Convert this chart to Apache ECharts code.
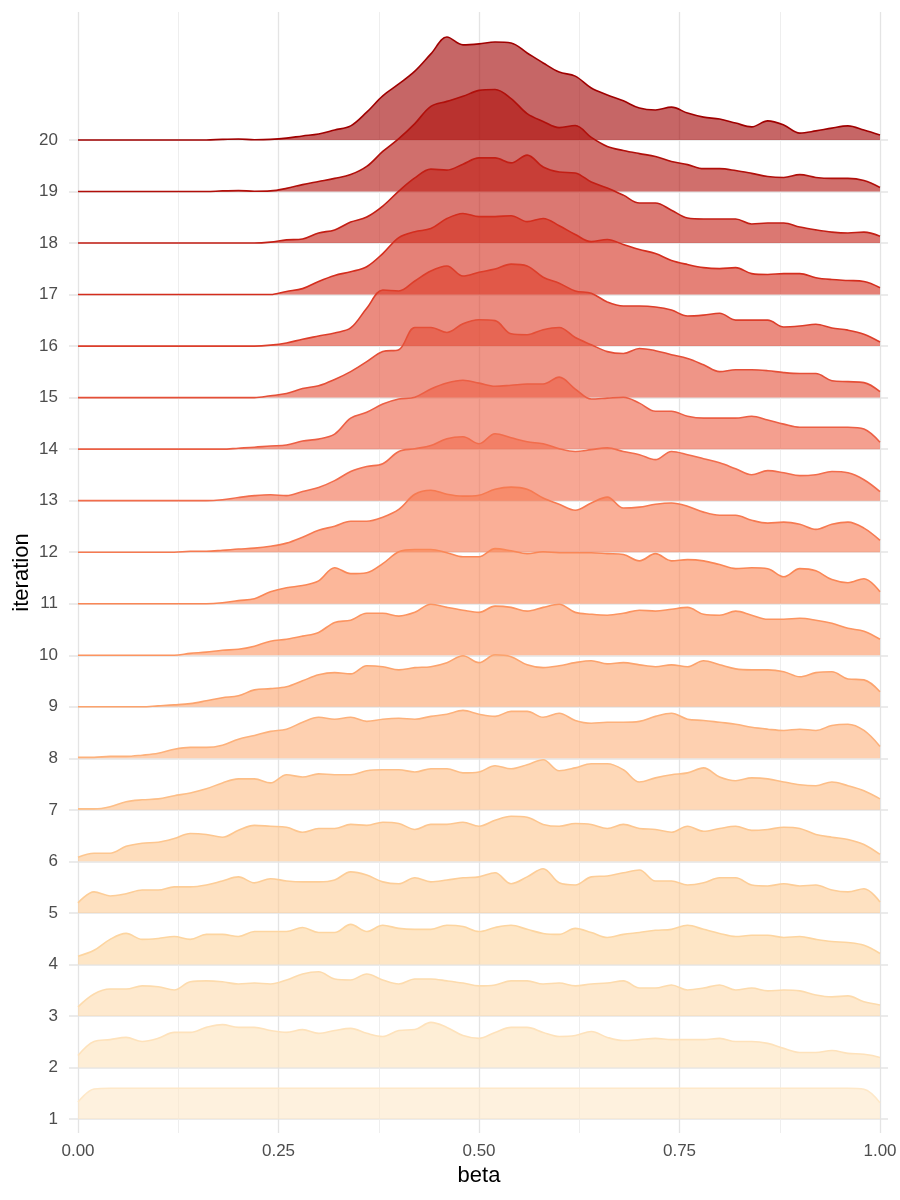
<!DOCTYPE html>
<html>
<head>
<meta charset="utf-8">
<script src="https://cdn.jsdelivr.net/npm/echarts@6/dist/echarts.min.js"></script>
<style>html,body{margin:0;padding:0;background:#fff}#chart{width:900px;height:1200px}</style>
</head>
<body>
<div id="chart"></div>
<script>
// ---- data ----
const beta = [0,0.02,0.04,0.06,0.08,0.1,0.12,0.14,0.16,0.18,0.2,0.22,0.24,0.26,0.28,0.3,0.32,0.34,0.36,0.38,0.4,0.42,0.44,0.46,0.48,0.5,0.52,0.54,0.56,0.58,0.6,0.62,0.64,0.66,0.68,0.7,0.72,0.74,0.76,0.78,0.8,0.82,0.84,0.86,0.88,0.9,0.92,0.94,0.96,0.98,1];
const iterations = [1,2,3,4,5,6,7,8,9,10,11,12,13,14,15,16,17,18,19,20];
const yTickLabels = ['1','2','3','4','5','6','7','8','9','10','11','12','13','14','15','16','17','18','19','20'];
const xTickLabels = ['0.00','0.25','0.50','0.75','1.00'];

// density of beta at each grid point, per iteration
const it1 = [0.54,0.96,0.98,0.98,0.98,0.98,0.98,0.98,0.98,0.98,0.98,0.98,0.98,0.98,0.98,0.98,0.98,0.98,0.98,0.98,0.98,0.98,0.98,0.98,0.98,0.98,0.98,0.98,0.98,0.98,0.98,0.98,0.98,0.98,0.98,0.98,0.98,0.98,0.98,0.98,0.98,0.98,0.98,0.98,0.98,0.98,0.98,0.98,0.98,0.95,0.52];
const it2 = [0.38,0.83,0.89,0.96,0.83,0.93,1.12,1.12,1.28,1.37,1.28,1.28,1.18,1.12,1.21,1.09,1.18,1.25,1.09,0.99,1.18,1.21,1.44,1.28,1.02,0.93,1.12,1.28,1.28,1.12,0.99,1.02,1.15,0.96,0.86,0.89,0.93,0.89,0.89,0.89,0.93,0.83,0.83,0.77,0.61,0.48,0.48,0.54,0.45,0.42,0.32];
const it3 = [0.29,0.70,0.86,0.86,0.96,0.93,0.83,1.09,1.12,1.09,1.02,1.05,1.02,1.15,1.34,1.41,1.18,1.15,1.34,1.15,1.02,1.18,1.18,1.12,1.05,0.96,0.99,1.12,1.12,1.02,1.05,0.96,1.02,1.05,1.12,0.89,0.89,0.99,0.83,0.89,0.99,0.83,0.89,0.80,0.83,0.80,0.67,0.61,0.64,0.45,0.35];
const it4 = [0.26,0.45,0.80,0.99,0.80,0.83,0.89,0.80,0.96,0.96,0.89,1.05,1.05,1.05,1.18,1.02,1.02,1.28,1.05,1.25,1.15,1.12,1.12,1.25,1.21,1.05,1.18,1.25,1.12,0.99,0.96,1.15,1.02,0.86,0.96,1.02,1.09,1.12,1.25,1.12,0.99,0.89,0.93,0.93,0.86,0.89,0.80,0.73,0.70,0.61,0.35];
const it5 = [0.32,0.67,0.54,0.61,0.73,0.73,0.83,0.83,0.89,1.02,1.15,0.96,1.09,1.02,0.99,0.99,1.05,1.31,1.21,0.99,0.93,1.12,0.99,1.05,1.12,1.15,1.28,0.93,1.15,1.41,0.96,0.89,1.15,1.18,1.28,1.37,1.02,1.02,0.89,0.96,1.12,1.12,0.89,0.86,0.93,0.86,0.89,0.73,0.67,0.77,0.35];
const it6 = [0.13,0.26,0.26,0.48,0.58,0.61,0.73,0.89,0.86,0.77,0.99,1.15,1.12,1.09,0.93,1.05,1.05,1.18,1.15,1.25,1.21,1.02,1.18,1.18,1.25,1.12,1.31,1.44,1.41,1.18,1.12,1.21,1.18,1.05,1.18,1.05,1.02,0.93,1.12,0.96,1.05,1.12,0.99,1.02,1.09,1.05,0.86,0.77,0.70,0.54,0.22];
const it7 = [0.03,0.03,0.10,0.26,0.32,0.35,0.45,0.54,0.67,0.86,0.99,0.99,0.86,1.12,1.05,1.15,1.12,1.12,1.25,1.28,1.28,1.21,1.31,1.31,1.18,1.21,1.41,1.31,1.44,1.60,1.25,1.34,1.47,1.47,1.28,0.89,1.02,1.12,1.18,1.34,1.05,0.93,1.02,0.99,0.89,0.80,0.77,0.89,0.77,0.61,0.35];
const it8 = [0.03,0.03,0.06,0.06,0.10,0.16,0.29,0.35,0.35,0.42,0.61,0.73,0.86,0.93,1.15,1.31,1.25,1.31,1.18,1.25,1.28,1.25,1.34,1.41,1.53,1.41,1.34,1.50,1.50,1.31,1.44,1.21,1.12,1.15,1.15,1.18,1.34,1.44,1.25,1.21,1.15,1.09,0.99,0.93,0.89,0.93,0.89,1.05,1.09,0.89,0.38];
const it9 = [0,0,0,0,0,0.03,0.06,0.10,0.19,0.29,0.35,0.54,0.58,0.64,0.83,1.02,1.09,1.05,1.31,1.28,1.18,1.25,1.28,1.41,1.63,1.41,1.66,1.60,1.34,1.25,1.31,1.41,1.47,1.37,1.41,1.34,1.28,1.34,1.28,1.47,1.34,1.21,1.18,1.18,1.12,0.96,1.09,1.12,0.89,0.86,0.48];
const it10 = [0,0,0,0,0,0,0,0.06,0.10,0.16,0.19,0.29,0.45,0.51,0.61,0.73,1.05,1.12,1.34,1.34,1.25,1.37,1.63,1.53,1.44,1.37,1.57,1.53,1.41,1.53,1.63,1.37,1.31,1.28,1.34,1.44,1.41,1.47,1.53,1.31,1.28,1.41,1.28,1.15,1.15,1.18,1.12,1.02,0.86,0.77,0.51];
const it11 = [0,0,0,0,0,0,0,0,0,0.03,0.10,0.16,0.38,0.51,0.58,0.73,1.15,0.96,0.99,1.28,1.66,1.73,1.73,1.63,1.50,1.50,1.76,1.69,1.60,1.66,1.63,1.63,1.63,1.60,1.57,1.37,1.60,1.37,1.41,1.37,1.25,1.12,1.15,1.12,0.86,1.12,1.05,0.77,0.67,0.80,0.38];
const it12 = [0,0,0,0,0,0,0,0.03,0.03,0.06,0.10,0.13,0.19,0.29,0.48,0.70,0.83,0.99,0.99,1.12,1.37,1.85,1.98,1.85,1.79,1.82,2.01,2.08,2.01,1.73,1.53,1.34,1.57,1.76,1.41,1.44,1.53,1.57,1.47,1.28,1.18,1.18,1.02,0.93,0.96,0.89,0.73,0.89,0.96,0.77,0.38];
const it13 = [0,0,0,0,0,0,0,0,0,0.03,0.10,0.16,0.19,0.16,0.29,0.42,0.64,0.93,1.09,1.18,1.57,1.66,1.76,1.98,2.04,1.82,2.14,2.01,1.88,1.82,1.66,1.57,1.63,1.69,1.57,1.47,1.31,1.57,1.47,1.34,1.21,1.02,0.83,0.96,0.89,0.80,0.83,0.93,0.89,0.67,0.29];
const it14 = [0,0,0,0,0,0,0,0,0,0,0.03,0.06,0.10,0.13,0.26,0.32,0.48,0.99,1.18,1.44,1.60,1.66,1.92,2.11,2.20,2.11,2.01,2.04,2.08,2.08,2.30,1.92,1.60,1.63,1.66,1.47,1.21,1.21,1.05,0.99,0.99,0.99,1.05,0.93,0.80,0.70,0.70,0.70,0.70,0.64,0.22];
const it15 = [0,0,0,0,0,0,0,0,0,0,0,0,0.06,0.13,0.29,0.38,0.58,0.83,1.15,1.47,1.53,2.24,2.24,2.08,2.36,2.49,2.46,2.04,2.01,2.17,2.24,1.92,1.69,1.47,1.41,1.57,1.50,1.37,1.25,1.05,0.83,0.89,0.89,0.86,0.80,0.77,0.77,0.54,0.51,0.48,0.19];
const it16 = [0,0,0,0,0,0,0,0,0,0,0,0,0.03,0.10,0.22,0.32,0.42,0.58,1.21,1.79,1.76,2.08,2.40,2.56,2.24,2.36,2.46,2.62,2.56,2.20,2.01,1.76,1.69,1.41,1.28,1.28,1.25,1.15,0.96,0.99,1.05,0.83,0.83,0.83,0.61,0.64,0.70,0.58,0.51,0.38,0.13];
const it17 = [0,0,0,0,0,0,0,0,0,0,0,0,0,0.10,0.19,0.42,0.61,0.73,0.89,1.31,1.82,2.01,2.11,2.43,2.59,2.49,2.49,2.52,2.33,2.43,2.20,1.92,1.69,1.76,1.60,1.44,1.31,1.09,0.96,0.86,0.83,0.86,0.67,0.64,0.67,0.67,0.54,0.48,0.45,0.42,0.22];
const it18 = [0,0,0,0,0,0,0,0,0,0,0,0,0.03,0.10,0.13,0.32,0.42,0.67,0.83,1.18,1.66,2.08,2.36,2.33,2.52,2.72,2.72,2.56,2.81,2.43,2.27,2.24,1.95,1.76,1.53,1.28,1.28,1.05,0.80,0.77,0.77,0.77,0.61,0.64,0.64,0.51,0.42,0.35,0.32,0.35,0.22];
const it19 = [0,0,0,0,0,0,0,0,0,0.02,0.03,0.01,0.02,0.10,0.22,0.32,0.42,0.54,0.80,1.28,1.69,2.17,2.72,2.88,3.04,3.23,3.26,2.97,2.49,2.24,2.04,2.11,1.73,1.44,1.31,1.21,1.12,0.96,0.86,0.73,0.73,0.67,0.58,0.48,0.45,0.54,0.45,0.42,0.42,0.35,0.13];
const it20 = [0,0,0,0,0,0,0,0,0,0.02,0.03,0.01,0.02,0.06,0.13,0.19,0.32,0.45,0.89,1.41,1.79,2.20,2.75,3.29,3.04,3.07,3.13,3.10,2.78,2.46,2.17,2.04,1.66,1.44,1.25,1.02,0.96,1.05,0.86,0.73,0.67,0.54,0.42,0.61,0.48,0.22,0.29,0.38,0.45,0.32,0.16];
const densities = [it1,it2,it3,it4,it5,it6,it7,it8,it9,it10,it11,it12,it13,it14,it15,it16,it17,it18,it19,it20];

// ---- style ----
const RIDGE_SCALE = 0.6075;           // ridge height (in rows) per unit of density
const Y_MIN = 0.728, Y_MAX = 22.484;  // panel extent in iteration units
const FONT = '"Liberation Sans", Arial, sans-serif';
const palette = ['#fee8c8','#fdd49e','#fdbb84','#fc8d59','#ef6548','#d7301f','#a00000'];
function hex(c){return [parseInt(c.slice(1,3),16),parseInt(c.slice(3,5),16),parseInt(c.slice(5,7),16)];}
function colorFor(it){
  const p = (it-1)/19*(palette.length-1);
  const k = Math.min(Math.floor(p), palette.length-2);
  const t = p-k, a = hex(palette[k]), b = hex(palette[k+1]);
  return 'rgb(' + a.map((v,i)=>Math.round(v+(b[i]-v)*t)).join(',') + ')';
}

const series = [];
for (let k = iterations.length-1; k >= 0; k--) {
  const it = iterations[k], d = densities[k], c = colorFor(it);
  series.push({
    type: 'line', name: yTickLabels[k], xAxisIndex: 0, yAxisIndex: 0,
    data: beta.map((x,j)=>[x, it + d[j]*RIDGE_SCALE]),
    smooth: 0.35, showSymbol: false, symbol: 'none', silent: true,
    lineStyle: {color: c, width: 1.6},
    itemStyle: {color: c},
    areaStyle: {color: c, opacity: 0.6, origin: it},
    z: 2
  });
}

const chart = echarts.init(document.getElementById('chart'), null, {renderer: 'canvas'});
chart.setOption({
  animation: false,
  backgroundColor: '#ffffff',
  grid: [
    {left: 78, right: 20, top: 12, bottom: 67, containLabel: false, outerBoundsMode: 'none'},
    {left: 69, right: 12, top: 140, bottom: 81, containLabel: false, outerBoundsMode: 'none'}
  ],
  xAxis: [
    {gridIndex: 0, type: 'value', min: 0, max: 1, interval: 0.25,
     axisLine: {show: false}, axisTick: {show: false},
     axisLabel: {formatter: v => xTickLabels[Math.round(v/0.25)], fontSize: 17, color: '#4d4d4d', margin: 10, fontFamily: FONT},
     splitLine: {show: true, lineStyle: {color: '#e4e4e4', width: 1.3}},
     minorTick: {show: false, splitNumber: 2},
     minorSplitLine: {show: true, lineStyle: {color: '#ececec', width: 0.9}},
     name: 'beta', nameLocation: 'middle', nameGap: 31,
     nameTextStyle: {fontSize: 22, color: '#000', fontFamily: FONT}},
    {gridIndex: 1, type: 'value', min: 0, max: 1, show: false}
  ],
  yAxis: [
    {gridIndex: 0, type: 'value', min: Y_MIN, max: Y_MAX,
     axisLine: {show: false}, axisTick: {show: false}, axisLabel: {show: false}, splitLine: {show: false},
     name: 'iteration', nameLocation: 'middle', nameRotate: 90, nameGap: 45,
     nameTextStyle: {fontSize: 22, color: '#000', fontFamily: FONT}},
    {gridIndex: 1, type: 'value', min: 1, max: 20, interval: 1,
     axisLine: {show: false}, axisTick: {show: false},
     axisLabel: {formatter: v => yTickLabels[Math.round(v)-1], fontSize: 17, color: '#4d4d4d', margin: 11, fontFamily: FONT},
     splitLine: {show: true, lineStyle: {color: '#e4e4e4', width: 1.6}}}
  ],
  series: series
});
</script>
</body>
</html>
